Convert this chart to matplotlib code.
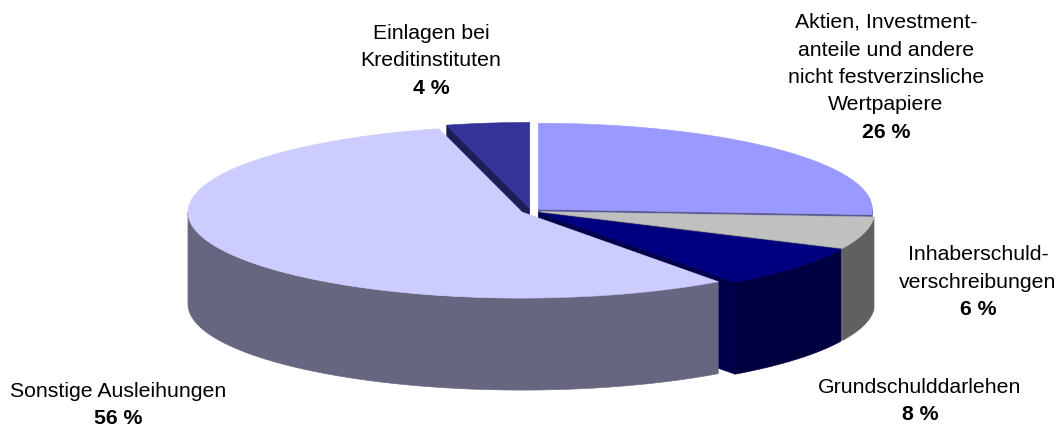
import numpy as np
import matplotlib.pyplot as plt
from matplotlib.patches import Polygon
from matplotlib.colors import to_rgb

plt.rcParams['font.family'] = ['Liberation Sans', 'DejaVu Sans']

# Data (clockwise from 12 o'clock)
labels = [['Aktien, Investment-', 'anteile und andere', 'nicht festverzinsliche', 'Wertpapiere'],
          ['Inhaberschuld-', 'verschreibungen'],
          ['Grundschulddarlehen'],
          ['Sonstige Ausleihungen'],
          ['Einlagen bei', 'Kreditinstituten']]
values = [26, 6, 8, 56, 4]
top_colors = ['#9999FF', '#C0C0C0', '#000080', '#CCCCFF', '#333399']

# label anchor (centre x, first baseline y) in pixels
label_pos = [(886, 28), (978, 260), (920, 393), (118, 397), (431, 39)]
line_h = 27.5

# pie geometry in pixels
cx, cy = 531, 211
rx, ry = 334, 86
depth = 92
explode = 10

fig = plt.figure(figsize=(10.58, 4.30), dpi=100)
ax = fig.add_axes([0, 0, 1, 1])
ax.set_xlim(0, 1058)
ax.set_ylim(430, 0)
ax.axis('off')


def shade(c, f):
    r, g, b = to_rgb(c)
    return (r * f, g * f, b * f)


def rim(t, ox, oy, dz=0.0):
    return np.column_stack([cx + ox + rx * np.sin(t), cy + oy - ry * np.cos(t) + dz])


fracs = np.array(values) / sum(values)
bounds = np.concatenate([[0], np.cumsum(fracs)]) * 2 * np.pi

faces, walls, tops = [], [], []
for i, col in enumerate(top_colors):
    t0, t1 = bounds[i], bounds[i + 1]
    mid = (t0 + t1) / 2
    ox = explode * np.sin(mid)
    oy = -explode * np.cos(mid) * ry / rx
    c = np.array([[cx + ox, cy + oy]])

    # top face
    arc = rim(np.linspace(t0, t1, 200), ox, oy)
    tops.append((np.vstack([c, arc]), col))

    # cut faces that point towards the viewer
    for t, n in [(t0, t0 - np.pi / 2), (t1, t1 + np.pi / 2)]:
        if np.cos(n) < -1e-6:
            p = rim(np.array([t]), ox, oy)
            quad = np.vstack([c, p, p + [0, depth], c + [0, depth]])
            faces.append((quad, shade(col, 0.58)))

    # outer wall, front half only
    a0, a1 = max(t0, np.pi / 2), min(t1, 3 * np.pi / 2)
    if a1 > a0:
        ts = np.linspace(a0, a1, 200)
        up = rim(ts, ox, oy)
        dn = rim(ts[::-1], ox, oy, depth)
        walls.append((np.vstack([up, dn]), shade(col, 0.5)))

for poly, col in faces + walls + tops:
    ax.add_patch(Polygon(poly, closed=True, facecolor=col, edgecolor=col, linewidth=0.4))

for lines, v, (x, y) in zip(labels, values, label_pos):
    for k, line in enumerate(lines):
        ax.text(x, y + k * line_h, line, ha='center', va='baseline', fontsize=15.3, color='black')
    ax.text(x, y + len(lines) * line_h, f'{v} %', ha='center', va='baseline',
            fontsize=15.3, fontweight='bold', color='black')

fig.savefig('out.png', dpi=100)
